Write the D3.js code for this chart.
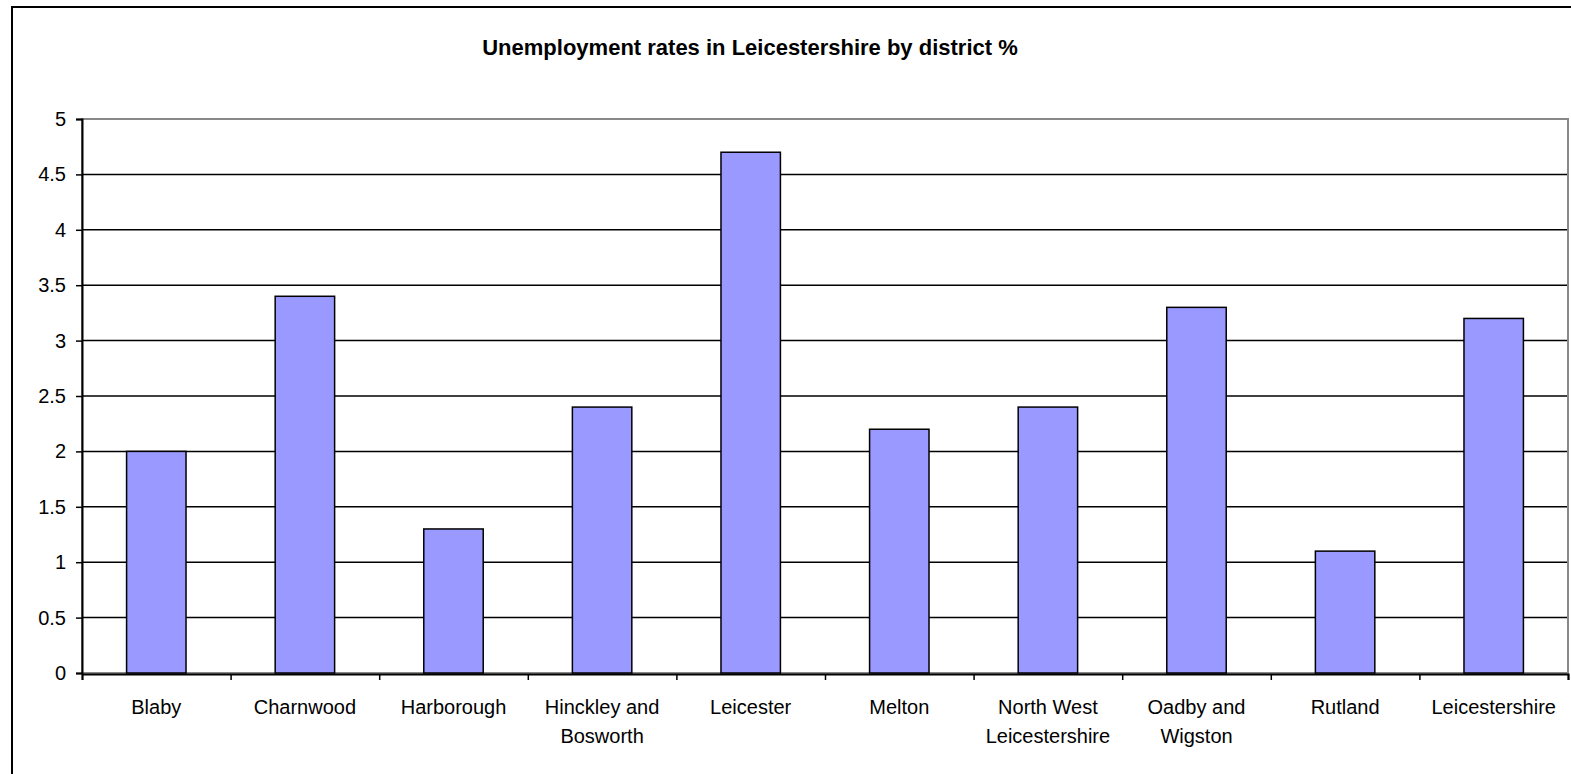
<!DOCTYPE html>
<html>
<head>
<meta charset="utf-8">
<script src="https://cdn.jsdelivr.net/npm/d3@7"></script>
<style>
    body { margin: 0; background: #fff; }
    svg { display: block; }
    text { font-family: "Liberation Sans", Arial, sans-serif; fill: #000; }
</style>
</head>
<body>
<div id="chart"></div>
<script>

//////////
// DATA //
//////////

var districts = [
    ['Blaby'], ['Charnwood'], ['Harborough'], ['Hinckley and', 'Bosworth'], ['Leicester'],
    ['Melton'], ['North West', 'Leicestershire'], ['Oadby and', 'Wigston'], ['Rutland'], ['Leicestershire']
];
var rates = [2.0, 3.4, 1.3, 2.4, 4.7, 2.2, 2.4, 3.3, 1.1, 3.2];
var yTicks = [0, 0.5, 1, 1.5, 2, 2.5, 3, 3.5, 4, 4.5, 5];
var title = 'Unemployment rates in Leicestershire by district %';

////////////////
// DIMENSIONS //
////////////////

var w = 1571, h = 774;
var plotL = 82, plotR = 1568, plotT = 119, plotB = 673;

var svg = d3.select('#chart').append('svg')
    .attr('width', w)
    .attr('height', h);

// outer chart border (runs off the right and bottom edges)
svg.append('rect')
    .attr('x', 12).attr('y', 7)
    .attr('width', 1600).attr('height', 800)
    .attr('fill', 'none')
    .attr('stroke', '#000')
    .attr('stroke-width', 2);

svg.append('text')
    .attr('x', 750).attr('y', 55)
    .attr('text-anchor', 'middle')
    .style('font-size', '22px')
    .style('font-weight', 'bold')
    .text(title);

////////////
// SCALES //
////////////

var idx = d3.range(rates.length);

var xScale = d3.scaleBand()
    .domain(idx)
    .range([plotL, plotR])
    .paddingInner(0.6)
    .paddingOuter(0.3);

var xEdges = d3.scaleLinear()
    .domain([0, rates.length])
    .range([plotL, plotR]);

var yScale = d3.scaleLinear()
    .domain([0, 5])
    .range([plotB, plotT]);

///////////////
// GRIDLINES //
///////////////

svg.append('g').selectAll('line')
    .data(yTicks.filter(function(d) { return d > 0 && d < 5; }))
    .enter().append('line')
    .attr('x1', plotL).attr('x2', plotR)
    .attr('y1', function(d) { return yScale(d); })
    .attr('y2', function(d) { return yScale(d); })
    .attr('stroke', '#000')
    .attr('stroke-width', 1.5);

// plot area border (grey)
svg.append('rect')
    .attr('x', plotL).attr('y', plotT)
    .attr('width', plotR - plotL).attr('height', plotB - plotT)
    .attr('fill', 'none')
    .attr('stroke', '#888')
    .attr('stroke-width', 2);

//////////
// BARS //
//////////

svg.append('g').selectAll('rect')
    .data(rates)
    .enter().append('rect')
    .attr('x', function(d, i) { return xScale(i); })
    .attr('y', function(d) { return yScale(d); })
    .attr('width', xScale.bandwidth())
    .attr('height', function(d) { return plotB - yScale(d); })
    .attr('fill', '#9999ff')
    .attr('stroke', '#000')
    .attr('stroke-width', 1.5);

//////////
// AXES //
//////////

var yAxis = d3.axisLeft(yScale)
    .tickValues(yTicks)
    .tickSize(6)
    .tickPadding(10)
    .tickFormat(d3.format(''));

svg.append('g')
    .attr('transform', 'translate(' + plotL + ',0)')
    .call(yAxis)
    .call(function(g) {
        g.select('.domain').attr('stroke', '#000').attr('stroke-width', 2);
        g.selectAll('.tick line').attr('stroke', '#000').attr('stroke-width', 1.5);
        g.selectAll('text')
            .style('font-size', '20px')
            .style('font-family', '"Liberation Sans", Arial, sans-serif');
    });

var xAxis = d3.axisBottom(xEdges)
    .tickValues(d3.range(rates.length + 1))
    .tickSize(6)
    .tickFormat('');

svg.append('g')
    .attr('transform', 'translate(0,' + (plotB + 1) + ')')
    .call(xAxis)
    .call(function(g) {
        g.select('.domain').attr('stroke', '#000').attr('stroke-width', 2);
        g.selectAll('.tick line').attr('stroke', '#000').attr('stroke-width', 1.5);
    });

// category labels
var labels = svg.append('g').selectAll('text')
    .data(districts)
    .enter().append('text')
    .attr('text-anchor', 'middle')
    .attr('x', function(d, i) { return xScale(i) + xScale.bandwidth() / 2; })
    .attr('y', 714)
    .style('font-size', '20px');

labels.selectAll('tspan')
    .data(function(d) { return d; })
    .enter().append('tspan')
    .attr('x', function() { return d3.select(this.parentNode).attr('x'); })
    .attr('dy', function(d, i) { return i === 0 ? 0 : 29; })
    .text(function(d) { return d; });

</script>
</body>
</html>
